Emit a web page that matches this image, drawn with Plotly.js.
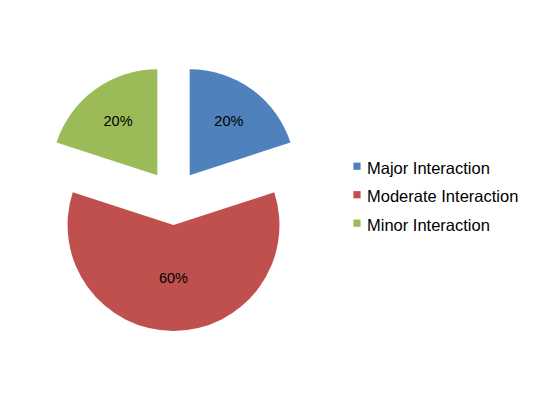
<!DOCTYPE html>
<html><head><meta charset="utf-8">
<script src="https://cdn.plot.ly/plotly-3.0.1.min.js"></script>
<style>
html,body{margin:0;padding:0;background:#fff}#chart{width:538px;height:393px}
#chart .legendpie{transform:translate(30px,0px) scale(0.6)}
</style>
</head><body><div id="chart"></div>
<script>
const labels = ["Major Interaction", "Moderate Interaction", "Minor Interaction"];
const values = [20, 60, 20];
const colors = ["#4F81BD", "#C0504D", "#9BBB59"];

const legendLabels = labels.map(l => '<span style="font-size:16.5px">' + l + '</span>');

const trace = {
  type: "pie",
  labels: legendLabels,
  values: values,
  sort: false,
  direction: "clockwise",
  rotation: 0,
  pull: [0.26, 0.26, 0.26],
  marker: {colors: colors, line: {width: 0}},
  textinfo: "percent",
  texttemplate: "%{percent:.0%}",
  textposition: "inside",
  insidetextorientation: "horizontal",
  textfont: {family: "Liberation Sans, Arial, sans-serif", size: 14.5, color: "#000"},
  domain: {x: [40/538, 307/538], y: [1 - 331/393, 1 - 64/393]},
  hoverinfo: "none"
};

const layout = {
  width: 538, height: 393,
  margin: {l: 0, r: 0, t: 0, b: 0},
  paper_bgcolor: "#fff",
  showlegend: true,
  legend: {
    x: 327/538, xanchor: "left",
    y: 1 - 195/393, yanchor: "middle",
    font: {family: "Liberation Sans, Arial, sans-serif", size: 19.6, color: "#000"},
    bgcolor: "rgba(0,0,0,0)"
  }
};
Plotly.newPlot("chart", [trace], layout, {staticPlot: true});
</script></body></html>
